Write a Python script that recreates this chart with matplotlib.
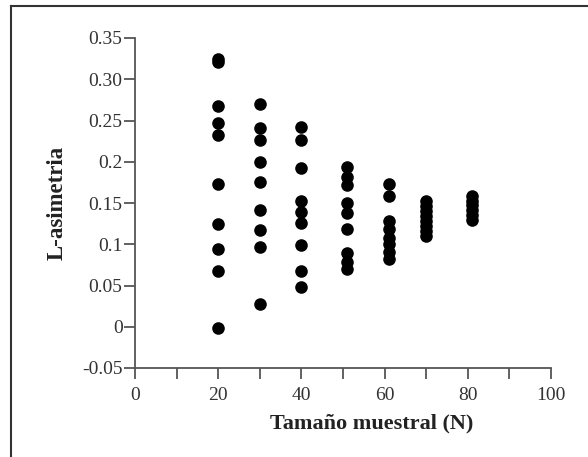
import matplotlib.pyplot as plt
from matplotlib.lines import Line2D

plt.rcParams["font.family"] = ["Liberation Serif", "DejaVu Serif"]

# tamaños muestrales (posición de cada columna)
tamanos = [20, 30, 40, 51, 61, 70, 81]

# L-asimetría leída por columna
lasim_20 = [0.324, 0.321, 0.267, 0.247, 0.233, 0.173, 0.125, 0.094, 0.067, -0.001]
lasim_30 = [0.270, 0.241, 0.226, 0.200, 0.175, 0.141, 0.117, 0.097, 0.027]
lasim_40 = [0.242, 0.226, 0.192, 0.152, 0.139, 0.126, 0.099, 0.067, 0.048]
lasim_51 = [0.194, 0.181, 0.172, 0.150, 0.138, 0.118, 0.090, 0.078, 0.070]
lasim_61 = [0.173, 0.158, 0.128, 0.118, 0.108, 0.100, 0.091, 0.082]
lasim_70 = [0.152, 0.146, 0.140, 0.134, 0.128, 0.122, 0.116, 0.110]
lasim_81 = [0.159, 0.153, 0.147, 0.141, 0.135, 0.129]

columnas = [lasim_20, lasim_30, lasim_40, lasim_51, lasim_61, lasim_70, lasim_81]

x_ticks = list(range(0, 101, 10))
x_labels = ["0", "", "20", "", "40", "", "60", "", "80", "", "100"]
y_ticks = [-0.05, 0, 0.05, 0.1, 0.15, 0.2, 0.25, 0.3, 0.35]
y_labels = ["-0.05", "0", "0.05", "0.1", "0.15", "0.2", "0.25", "0.30", "0.35"]

fig = plt.figure(figsize=(5.88, 4.57), dpi=100)
ax = fig.add_axes([135 / 588, 1 - 368 / 457, 416 / 588, 330 / 457])

for n, valores in zip(tamanos, columnas):
    ax.scatter([n] * len(valores), valores, s=82, color="black", linewidths=0, zorder=3)

ax.set_xlim(0, 100)
ax.set_ylim(-0.05, 0.35)
ax.set_xticks(x_ticks)
ax.set_xticklabels(x_labels)
ax.set_yticks(y_ticks)
ax.set_yticklabels(y_labels)

for lado in ["top", "right"]:
    ax.spines[lado].set_visible(False)
for lado in ["left", "bottom"]:
    ax.spines[lado].set_color("#555555")
    ax.spines[lado].set_linewidth(1.3)

ax.tick_params(axis="x", direction="out", length=8, width=1.3, color="#555555",
               labelsize=14, labelcolor="#333333", pad=6)
ax.tick_params(axis="y", direction="out", length=8, width=1.3, color="#555555",
               labelsize=14, labelcolor="#333333", pad=1)

fig.text(372 / 588, 1 - 423 / 457, "Tamaño muestral (N)", ha="center", va="center",
         fontsize=16, fontweight="bold", color="#222222")
fig.text(57 / 588, 1 - 203 / 457, "L-asimetria", ha="center", va="center", rotation=90,
         fontsize=16.5, fontweight="bold", color="#222222")

# marco de la imagen original
fig.add_artist(Line2D([11 / 588, 11 / 588], [0, 1 - 6 / 457], color="#333333", lw=1.5))
fig.add_artist(Line2D([11 / 588, 1], [1 - 6 / 457, 1 - 6 / 457], color="#333333", lw=1.5))

fig.savefig("out.png", dpi=100)
